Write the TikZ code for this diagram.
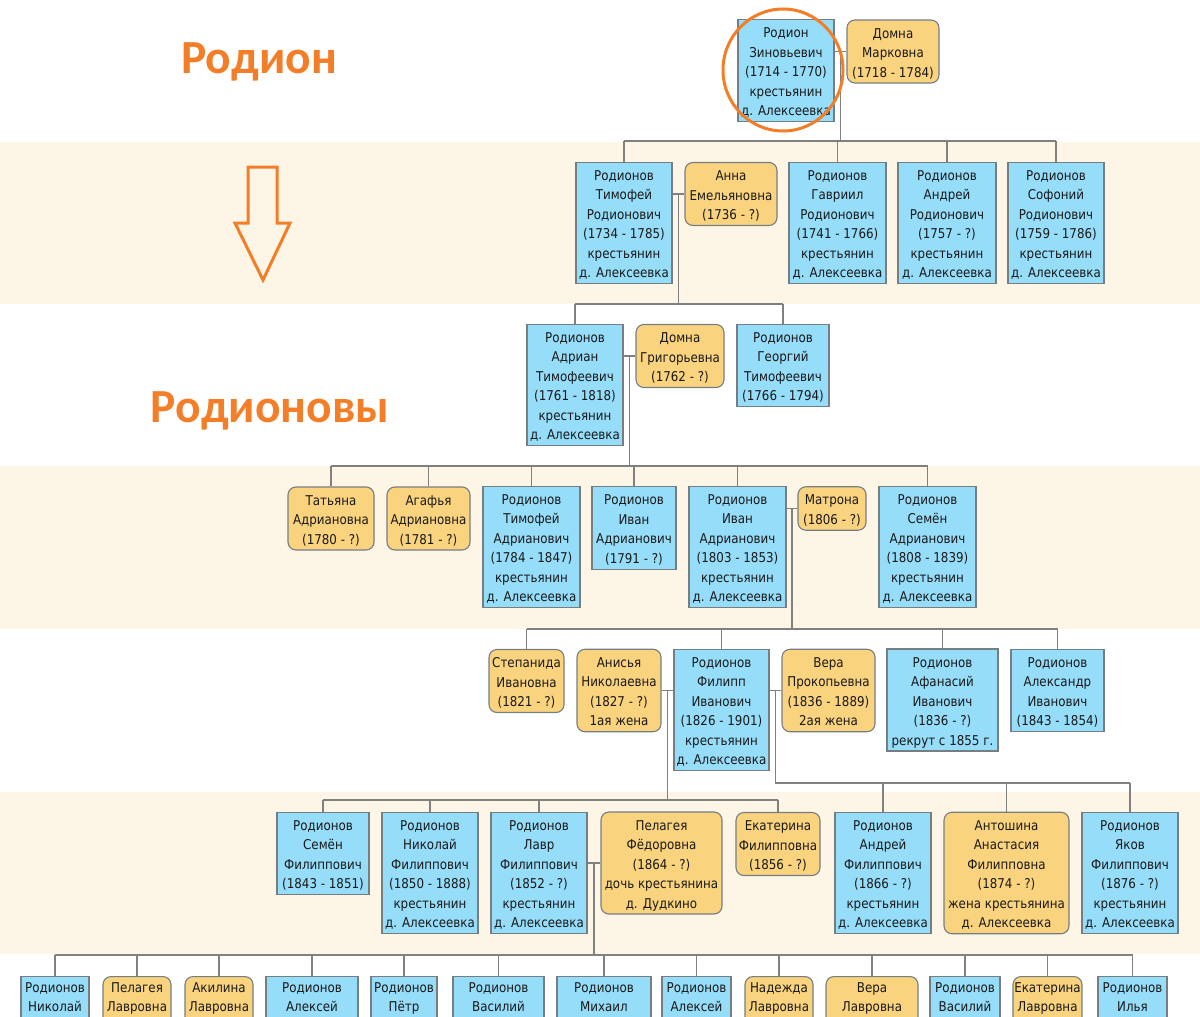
\documentclass[tikz,border=0pt]{standalone}
\usepackage{fontspec}
\setmainfont{DejaVu Sans}[FakeStretch=0.88]
\newfontfamily\headfont{Carlito}
\usetikzlibrary{calc}
\definecolor{bluef}{RGB}{150,221,249}
\definecolor{goldf}{RGB}{250,211,126}
\definecolor{bord}{RGB}{118,126,130}
\definecolor{bandc}{RGB}{253,245,229}
\definecolor{linec}{RGB}{128,128,128}
\definecolor{orng}{RGB}{244,126,40}
\definecolor{txt}{RGB}{25,25,25}
\newcommand\bx[1]{\raisebox{0pt}[\dimexpr\height+4.5pt\relax][\depth]{\begin{tabular}{@{}c@{}}#1\end{tabular}}}
\begin{document}
\begin{tikzpicture}[x=1pt,y=-1pt,
  box/.style={draw=bord, line width=1.1pt, inner xsep=1pt, inner ysep=0pt,
    text=txt, font=\fontsize{13.5}{19.5}\selectfont},
  man/.style={box, fill=bluef},
  wom/.style={box, fill=goldf, rounded corners=8pt},
  sz/.style 2 args={minimum width=#1, minimum height=#2},
  kidtext/.style={anchor=north, align=center, inner sep=0pt, text=txt,
    font=\fontsize{13.5}{19.5}\selectfont, yshift=-6pt},
  kid/.style={anchor=north, minimum width=#1, minimum height=70},
  link/.style={draw=linec, line width=1.3pt},
  head/.style={text=orng, font=\headfont\bfseries\fontsize{47.5}{52}\selectfont, inner sep=0pt, anchor=base}]
\useasboundingbox (0,0) rectangle (1200,1017);
\clip (0,0) rectangle (1200,1017);
% bands
\fill[bandc] (0,142) rectangle (1200,304);
\fill[bandc] (0,466) rectangle (1200,629);
\fill[bandc] (0,792) rectangle (1200,954);

% row 0
\node[man, sz={96}{101}] (rodion) at (786,70.5) {\bx{Родион\\Зиновьевич\\(1714 - 1770)\\крестьянин\\д. Алексеевка}};
\node[wom, sz={92}{63}] (domna) at (893,51.5) {\bx{Домна\\Марковна\\(1718 - 1784)}};
% row 1
\node[man, sz={96}{120}] (tim) at (624,223) {\bx{Родионов\\Тимофей\\Родионович\\(1734 - 1785)\\крестьянин\\д. Алексеевка}};
\node[wom, sz={92}{62}] (anna) at (731,194) {\bx{Анна\\Емельяновна\\(1736 - ?)}};
\node[man, sz={97}{120}] (gav) at (837.5,223) {\bx{Родионов\\Гавриил\\Родионович\\(1741 - 1766)\\крестьянин\\д. Алексеевка}};
\node[man, sz={98}{120}] (andr) at (947,223) {\bx{Родионов\\Андрей\\Родионович\\(1757 - ?)\\крестьянин\\д. Алексеевка}};
\node[man, sz={96}{120}] (sof) at (1056,223) {\bx{Родионов\\Софоний\\Родионович\\(1759 - 1786)\\крестьянин\\д. Алексеевка}};
% row 2
\node[man, sz={96}{120}] (adr) at (575,385) {\bx{Родионов\\Адриан\\Тимофеевич\\(1761 - 1818)\\крестьянин\\д. Алексеевка}};
\node[wom, sz={88}{62}] (domg) at (680,356) {\bx{Домна\\Григорьевна\\(1762 - ?)}};
\node[man, sz={92}{81}] (geo) at (783,365.5) {\bx{Родионов\\Георгий\\Тимофеевич\\(1766 - 1794)}};
% row 3
\node[wom, sz={86}{63}] (tat) at (331,518.5) {\bx{Татьяна\\Адриановна\\(1780 - ?)}};
\node[wom, sz={83}{63}] (aga) at (428.5,518.5) {\bx{Агафья\\Адриановна\\(1781 - ?)}};
\node[man, sz={97}{120}] (tima) at (531.5,547) {\bx{Родионов\\Тимофей\\Адрианович\\(1784 - 1847)\\крестьянин\\д. Алексеевка}};
\node[man, sz={84}{82}] (ivana) at (634,528) {\bx{Родионов\\Иван\\Адрианович\\(1791 - ?)}};
\node[man, sz={97}{120}] (ivanb) at (737.5,547) {\bx{Родионов\\Иван\\Адрианович\\(1803 - 1853)\\крестьянин\\д. Алексеевка}};
\node[wom, sz={68}{43}] (matr) at (832,508.5) {\bx{Матрона\\(1806 - ?)}};
\node[man, sz={97}{120}] (sem) at (927.5,547) {\bx{Родионов\\Семён\\Адрианович\\(1808 - 1839)\\крестьянин\\д. Алексеевка}};
% row 4
\node[wom, sz={75}{62}] (step) at (526.5,681) {\bx{Степанида\\Ивановна\\(1821 - ?)}};
\node[wom, sz={84}{81}] (anis) at (619,690.5) {\bx{Анисья\\Николаевна\\(1827 - ?)\\1ая жена}};
\node[man, sz={95}{120}] (fil) at (721.5,710) {\bx{Родионов\\Филипп\\Иванович\\(1826 - 1901)\\крестьянин\\д. Алексеевка}};
\node[wom, sz={93}{81}] (vera) at (828.5,690.5) {\bx{Вера\\Прокопьевна\\(1836 - 1889)\\2ая жена}};
\node[man, sz={111}{100}] (afan) at (942.5,700) {\bx{Родионов\\Афанасий\\Иванович\\(1836 - ?)\\рекрут с 1855 г.}};
\node[man, sz={93}{81}] (alex) at (1057.5,690.5) {\bx{Родионов\\Александр\\Иванович\\(1843 - 1854)}};
% row 5
\node[man, sz={92}{81}] (semf) at (323,853.5) {\bx{Родионов\\Семён\\Филиппович\\(1843 - 1851)}};
\node[man, sz={96}{120}] (nik) at (430,873) {\bx{Родионов\\Николай\\Филиппович\\(1850 - 1888)\\крестьянин\\д. Алексеевка}};
\node[man, sz={96}{120}] (lavr) at (539,873) {\bx{Родионов\\Лавр\\Филиппович\\(1852 - ?)\\крестьянин\\д. Алексеевка}};
\node[wom, sz={121}{100}] (pelf) at (661.5,863) {\bx{Пелагея\\Фёдоровна\\(1864 - ?)\\дочь крестьянина\\д. Дудкино}};
\node[wom, sz={84}{62}] (ekf) at (778,844) {\bx{Екатерина\\Филипповна\\(1856 - ?)}};
\node[man, sz={96}{120}] (andf) at (883,873) {\bx{Родионов\\Андрей\\Филиппович\\(1866 - ?)\\крестьянин\\д. Алексеевка}};
\node[wom, sz={125}{120}] (ant) at (1006.5,873) {\bx{Антошина\\Анастасия\\Филипповна\\(1874 - ?)\\жена крестьянина\\д. Алексеевка}};
\node[man, sz={96}{120}] (yak) at (1130,873) {\bx{Родионов\\Яков\\Филиппович\\(1876 - ?)\\крестьянин\\д. Алексеевка}};
% row 6
\node[man, kid=68, label={[kidtext]north:Родионов\\Николай}] (ka) at (55,976) {};
\node[wom, kid=68, label={[kidtext]north:Пелагея\\Лавровна}] (kb) at (137,976) {};
\node[wom, kid=68, label={[kidtext]north:Акилина\\Лавровна}] (kc) at (219,976) {};
\node[man, kid=92, label={[kidtext]north:Родионов\\Алексей}] (kd) at (312,976) {};
\node[man, kid=66, label={[kidtext]north:Родионов\\Пётр}] (ke) at (404,976) {};
\node[man, kid=91, label={[kidtext]north:Родионов\\Василий}] (kf) at (498.5,976) {};
\node[man, kid=94, label={[kidtext]north:Родионов\\Михаил}] (kg) at (604,976) {};
\node[man, kid=69, label={[kidtext]north:Родионов\\Алексей}] (kh) at (696.5,976) {};
\node[wom, kid=68, label={[kidtext]north:Надежда\\Лавровна}] (ki) at (779,976) {};
\node[wom, kid=92, label={[kidtext]north:Вера\\Лавровна}] (kj) at (872,976) {};
\node[man, kid=70, label={[kidtext]north:Родионов\\Василий}] (kk) at (965,976) {};
\node[wom, kid=69, label={[kidtext]north:Екатерина\\Лавровна}] (kl) at (1047.5,976) {};
\node[man, kid=69, label={[kidtext]north:Родионов\\Илья}] (km) at (1132.5,976) {};

% connectors
\coordinate (b1) at (0,141);
\coordinate (b2) at (0,304);
\coordinate (b3) at (0,466);
\coordinate (b4) at (0,629);
\coordinate (b5a) at (0,800);
\coordinate (b5b) at (0,783);
\coordinate (b6) at (0,955);
% marriage 0
\draw[link] (rodion.east |- domna.west) -- (domna.west);
\coordinate (m0) at ($(rodion.east |- domna.west)!0.5!(domna.west)$);
\draw[link] (m0) -- (m0 |- b1);
\draw[link] (tim.north |- b1) -- (sof.north |- b1);
\foreach \n in {tim,gav,andr,sof} \draw[link] (\n.north) -- (\n.north |- b1);
% marriage 1
\draw[link] (tim.east |- anna.west) -- (anna.west);
\coordinate (m1) at ($(tim.east |- anna.west)!0.5!(anna.west)$);
\draw[link] (m1) -- (m1 |- b2);
\draw[link] (adr.north |- b2) -- (geo.north |- b2);
\foreach \n in {adr,geo} \draw[link] (\n.north) -- (\n.north |- b2);
% marriage 2
\draw[link] (adr.east |- domg.west) -- (domg.west);
\coordinate (m2) at ($(adr.east |- domg.west)!0.5!(domg.west)$);
\draw[link] (m2) -- (m2 |- b3);
\draw[link] (tat.north |- b3) -- (sem.north |- b3);
\foreach \n in {tat,aga,tima,ivana,ivanb,sem} \draw[link] (\n.north) -- (\n.north |- b3);
% marriage 3
\draw[link] (ivanb.east |- matr.west) -- (matr.west);
\coordinate (m3) at ($(ivanb.east |- matr.west)!0.5!(matr.west)$);
\draw[link] (m3) -- (m3 |- b4);
\draw[link] (step.north |- b4) -- (alex.north |- b4);
\foreach \n in {step,fil,afan,alex} \draw[link] (\n.north) -- (\n.north |- b4);
% marriages 4
\draw[link] (anis.east) -- (fil.west |- anis.east);
\coordinate (m4a) at ($(anis.east)!0.5!(fil.west |- anis.east)$);
\draw[link] (fil.east |- vera.west) -- (vera.west);
\coordinate (m4b) at ($(fil.east |- vera.west)!0.5!(vera.west)$);
\draw[link] (m4a) -- (m4a |- b5a);
\draw[link] (semf.north |- b5a) -- (ekf.north |- b5a);
\foreach \n in {semf,nik,lavr,ekf} \draw[link] (\n.north) -- (\n.north |- b5a);
\draw[link] (m4b) -- (m4b |- b5b) -- (yak.north |- b5b);
\foreach \n in {andf,ant,yak} \draw[link] (\n.north) -- (\n.north |- b5b);
% marriage 5
\draw[link] (lavr.east |- pelf.west) -- (pelf.west);
\coordinate (m5) at ($(lavr.east |- pelf.west)!0.5!(pelf.west)$);
\draw[link] (m5) -- (m5 |- b6);
\draw[link] (ka.north |- b6) -- (km.north |- b6);
\foreach \n in {ka,kb,kc,kd,ke,kf,kg,kh,ki,kj,kk,kl,km} \draw[link] (\n.north) -- (\n.north |- b6);

% highlight ellipse
\draw[orng, line width=3pt] (783,70) ellipse [x radius=60, y radius=61];
% titles
\node[head] (t1) at (259,73) {Родион};
\node[head] (t2) at (270,422) {Родионовы};
% arrow
\draw[orng, line width=3pt] (248,167) -- (277,167) -- (277,223) -- (290,223) -- (263,280) -- (235,223) -- (248,223) -- cycle;
\end{tikzpicture}
\end{document}
